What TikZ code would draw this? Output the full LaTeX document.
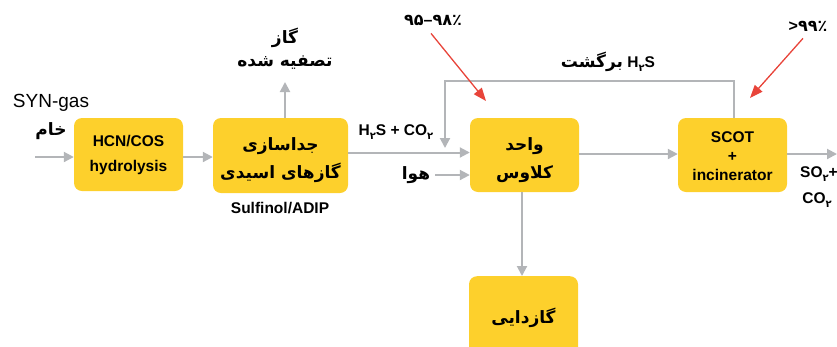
\documentclass[tikz,border=0pt]{standalone}
\usepackage{fontspec}
\setmainfont{Liberation Sans}
\newfontfamily\fa[Script=Arabic]{DejaVu Sans}
\TeXXeTstate=1
\usetikzlibrary{arrows.meta}
\definecolor{boxy}{HTML}{FDD02C}
\definecolor{arrg}{HTML}{B3B5B8}
\definecolor{arrr}{HTML}{E8443A}
\newcommand{\fatxt}[1]{{\fa\bfseries\beginR #1\endR}}
\newcommand{\subfa}[1]{\raisebox{-0.45ex}{\fa\bfseries\fontsize{10}{10}\selectfont #1}}
\newcommand{\fadig}[1]{\mbox{\fa\bfseries #1}}
\tikzset{
  pbox/.style={fill=boxy, rounded corners=8pt, inner sep=0pt},
  btxt/.style={inner sep=0pt, align=center, font=\bfseries\fontsize{15.5}{19}\selectfont},
  ftxt/.style={inner sep=0pt, align=center, font=\bfseries\fontsize{17}{20}\selectfont},
  garr/.style={draw=arrg, line width=2pt, -{Triangle[length=10pt,width=10pt]}},
  rarr/.style={draw=arrr, line width=1.3pt, -{Triangle[length=13pt,width=10pt]}},
  lbl/.style={inner sep=0pt, font=\bfseries\fontsize{15.5}{19}\selectfont, align=center},
}
\begin{document}
\begin{tikzpicture}[x=1pt,y=-1pt]
\useasboundingbox (0,0) rectangle (837,346);
\clip (0,0) rectangle (837,346);
% boxes
\node[pbox, minimum width=109pt, minimum height=73pt] (hyd) at (128.5,154.5) {};
\node[btxt] (hydT) at (128.5,155) {HCN/COS\\[6pt]hydrolysis};
\node[pbox, minimum width=135pt, minimum height=75pt] (sep) at (280.5,155.5) {};
\node[ftxt] (sepT) at (280.5,160) {\fatxt{جداسازی}\\[8pt]\fatxt{گازهای اسیدی}};
\node[pbox, minimum width=109pt, minimum height=74pt] (claus) at (524.5,155) {};
\node[ftxt] (clausT) at (524.5,160) {\fatxt{واحد}\\[8pt]\fatxt{کلاوس}};
\node[pbox, minimum width=109pt, minimum height=74pt] (scot) at (732.5,155) {};
\node[btxt] (scotT) at (732.5,156.5) {SCOT\\+\\incinerator};
\node[pbox, minimum width=109pt, minimum height=100pt, anchor=north] (degas) at (523.5,276) {};
\node[ftxt] (degasT) at (523.5,318) {\fatxt{گازدایی}};
% labels
\node[inner sep=0pt, font=\fontsize{19}{20}\selectfont] (syn) at (51,103) {SYN-gas};
\node[lbl, font=\fontsize{17}{20}\selectfont] (kham) at (51,131) {\fatxt{خام}};
\node[lbl, font=\fontsize{17}{20}\selectfont] (gaz) at (285,38) {\fatxt{گاز}};
\node[lbl, font=\fontsize{17}{20}\selectfont] (tasfie) at (285,63) {\fatxt{تصفیه شده}};
\node[lbl] (sulf) at (280,208) {Sulfinol/ADIP};
\node[lbl] (hs) at (396,132) {H\subfa{۲}S + CO\subfa{۲}};
\node[lbl, font=\fontsize{17}{20}\selectfont] (hava) at (416,175) {\fatxt{هوا}};
\node[lbl] (bargasht) at (605,62) {{\fa\bfseries\fontsize{17}{20}\selectfont\beginR برگشت \endR}\ H\subfa{۲}S};
\node[lbl, font=\bfseries\fontsize{16}{20}\selectfont] (p1) at (433,20) {\fadig{۹۵}\mbox{–}\fadig{۹۸٪}};
\node[lbl, font=\bfseries\fontsize{16}{20}\selectfont] (p2) at (808,26) {\mbox{>}\fadig{۹۹٪}};
\node[lbl] (so2) at (819,174) {SO\subfa{۲}+};
\node[lbl] (co2) at (817,200) {CO\subfa{۲}};
% coordinates
\coordinate (in) at (35,157);
\coordinate (out) at (837,154);
\coordinate (up) at (285,82);
\coordinate (air) at (435,175);
\coordinate (r1) at (734,81);
\coordinate (r2) at (445,81);
\coordinate (r3) at (445,148);
\coordinate (t1) at (486,101);
\coordinate (t2) at (750,98);
% connectors
\draw[garr] (in) -- (hyd.west |- in);
\draw[garr] (hyd.east |- in) -- (sep.west |- in);
\draw[garr] (sep.north -| up) -- (up);
\draw[garr] (sep.east |- 0,152.5) -- (claus.west |- 0,152.5);
\draw[garr] (air) -- (claus.west |- air);
\draw[garr] (claus.east |- 0,154) -- (scot.west |- 0,154);
\draw[garr] (scot.east |- out) -- (out);
\draw[garr] (claus.south -| 522,0) -- (degas.north -| 522,0);
\draw[garr] (scot.north -| r1) -- (r1) -- (r2) -- (r3);
\draw[rarr] (p1.south) ++(-2,8) coordinate (p1s) -- (t1);
\draw[rarr] (p2.south) ++(-5,7) coordinate (p2s) -- (t2);
\end{tikzpicture}
\end{document}
